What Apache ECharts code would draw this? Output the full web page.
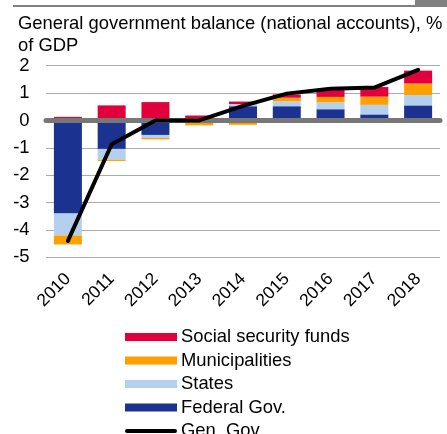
<!DOCTYPE html>
<html><head><meta charset="utf-8">
<script src="https://cdn.jsdelivr.net/npm/echarts@6/dist/echarts.min.js"></script>
<style>html,body{margin:0;padding:0;background:#fff}#c{width:447px;height:434px}</style>
</head><body><div id="c"></div>
<script>
const years = ['2010','2011','2012','2013','2014','2015','2016','2017','2018'];
const federal = [-3.4, -1.04, -0.53, 0.0, 0.52, 0.52, 0.41, 0.22, 0.55];
const states = [-0.8, -0.39, -0.11, 0.0, 0.08, 0.18, 0.25, 0.35, 0.38];
const municipalities = [-0.33, -0.05, -0.05, -0.18, -0.16, 0.13, 0.2, 0.3, 0.42];
const social = [0.13, 0.55, 0.67, 0.18, 0.09, 0.12, 0.29, 0.35, 0.47];
const genGov = [-4.4, -0.87, 0.0, 0.0, 0.53, 0.98, 1.16, 1.2, 1.85];
const yTicks = [-5, -4, -3, -2, -1, 0, 1, 2];

const FONT = 'Liberation Sans, Arial, sans-serif';
const chart = echarts.init(document.getElementById('c'));
const barW = 28;
chart.setOption({
  animation: false,
  textStyle: {fontFamily: FONT},
  title: {
    text: 'General government balance (national accounts), %\nof GDP',
    left: 13, top: 8,
    textStyle: {fontSize: 18.4, fontWeight: 'normal', color: '#000', lineHeight: 22, fontFamily: FONT}
  },
  graphic: [
    {type: 'rect', shape: {x: 13, y: 5, width: 402, height: 2}, style: {fill: '#808080'}},
    {type: 'rect', shape: {x: 415, y: 0, width: 32, height: 7}, style: {fill: '#808080'}}
  ],
  legend: {
    orient: 'vertical', left: 120, top: 323, height: 200, itemGap: 5.5,
    itemWidth: 52, itemHeight: 8,
    textStyle: {fontSize: 18.4, color: '#000', fontFamily: FONT, padding: [0,0,0,-1]},
    data: [
      {name: 'Social security funds', icon: 'rect'},
      {name: 'Municipalities', icon: 'rect'},
      {name: 'States', icon: 'rect'},
      {name: 'Federal Gov.', icon: 'rect'},
      {name: 'Gen. Gov', icon: 'path://M2,0 L50,0 A2,2 0 0 1 50,4 L2,4 A2,2 0 0 1 2,0 Z', itemStyle: {color: '#000'}}
    ]
  },
  grid: {left: 46, right: 7, top: 65.7, bottom: 176.7},
  xAxis: {
    type: 'category', data: years, z: 3,
    axisLine: {onZero: true, lineStyle: {color: '#777', width: 5}},
    axisTick: {show: false},
    axisLabel: {rotate: 45, fontSize: 17.5, color: '#000', margin: 19, fontFamily: FONT, interval: 0}
  },
  yAxis: {
    type: 'value', min: -5, max: 2, interval: 1,
    axisLine: {show: false}, axisTick: {show: false},
    splitLine: {lineStyle: {color: '#aaa', width: 1}},
    axisLabel: {fontSize: 18.4, color: '#000', margin: 16.5, fontFamily: FONT,
      formatter: v => yTicks.includes(v) ? String(v) : ''}
  },
  series: [
    {name: 'Federal Gov.', type: 'bar', stack: 'g', data: federal, barWidth: barW, itemStyle: {color: '#1b3291'}},
    {name: 'States', type: 'bar', stack: 'g', data: states, barWidth: barW, itemStyle: {color: '#b3d1ef'}},
    {name: 'Municipalities', type: 'bar', stack: 'g', data: municipalities, barWidth: barW, itemStyle: {color: '#ffa000'}},
    {name: 'Social security funds', type: 'bar', stack: 'g', data: social, barWidth: barW, itemStyle: {color: '#e2003c'}},
    {name: 'Gen. Gov', type: 'line', data: genGov, z: 5, symbol: 'none',
      lineStyle: {color: '#000', width: 4, cap: 'round', join: 'round'}, itemStyle: {color: '#000'}}
  ]
});
</script></body></html>
